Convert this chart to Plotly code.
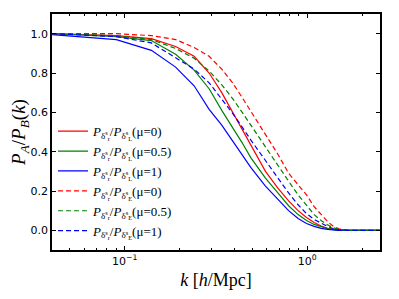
import plotly.graph_objects as go

k = [0.04, 0.09, 0.14, 0.19, 0.24, 0.29, 0.34, 0.39, 0.44, 0.49, 0.59, 0.69,
     0.79, 0.89, 0.99, 1.09, 1.19, 1.29, 1.39, 1.49, 1.69, 1.99, 2.49]

L_mu0 = [1.0, 0.99, 0.975, 0.935, 0.885, 0.80, 0.70, 0.60, 0.51, 0.43, 0.30, 0.215,
         0.15, 0.10, 0.065, 0.04, 0.022, 0.01, 0.004, 0.001, 0.0, 0.0, 0.0]
L_mu05 = [1.0, 0.985, 0.965, 0.895, 0.815, 0.72, 0.61, 0.525, 0.445, 0.37, 0.265, 0.19,
          0.125, 0.08, 0.05, 0.03, 0.018, 0.009, 0.004, 0.001, 0.0, 0.0, 0.0]
L_mu1 = [0.995, 0.97, 0.915, 0.83, 0.735, 0.615, 0.535, 0.455, 0.385, 0.32, 0.225, 0.155,
         0.10, 0.06, 0.035, 0.02, 0.01, 0.005, 0.002, 0.0, 0.0, 0.0, 0.0]
E_mu0 = [1.0, 1.0, 0.99, 0.97, 0.93, 0.885, 0.82, 0.75, 0.675, 0.607, 0.487, 0.387,
         0.29, 0.235, 0.18, 0.12, 0.08, 0.045, 0.02, 0.008, 0.0, 0.0, 0.0]
E_mu05 = [1.0, 0.99, 0.97, 0.925, 0.875, 0.81, 0.74, 0.67, 0.60, 0.535, 0.42, 0.33,
          0.25, 0.18, 0.125, 0.08, 0.05, 0.028, 0.013, 0.005, 0.0, 0.0, 0.0]
E_mu1 = [1.0, 0.985, 0.953, 0.88, 0.82, 0.75, 0.67, 0.595, 0.525, 0.46, 0.355, 0.265,
         0.19, 0.13, 0.085, 0.055, 0.035, 0.02, 0.008, 0.003, 0.0, 0.0, 0.0]

lbl_r = "<i>P</i><sub>δ<sup>s</sup><sub>r</sub></sub>"
names = [
    lbl_r + "/<i>P</i><sub>δ<sup>s</sup><sub>L</sub></sub>(μ=0)",
    lbl_r + "/<i>P</i><sub>δ<sup>s</sup><sub>L</sub></sub>(μ=0.5)",
    lbl_r + "/<i>P</i><sub>δ<sup>s</sup><sub>L</sub></sub>(μ=1)",
    lbl_r + "/<i>P</i><sub>δ<sup>s</sup><sub>E</sub></sub>(μ=0)",
    lbl_r + "/<i>P</i><sub>δ<sup>s</sup><sub>E</sub></sub>(μ=0.5)",
    lbl_r + "/<i>P</i><sub>δ<sup>s</sup><sub>E</sub></sub>(μ=1)",
]
series = [L_mu0, L_mu05, L_mu1, E_mu0, E_mu05, E_mu1]
colors = ["#ff0000", "#008000", "#0000ff", "#ff0000", "#008000", "#0000ff"]
dashes = ["solid", "solid", "solid", "5px,3px", "5px,3px", "5px,3px"]

fig = go.Figure()
for y, n, c, d in zip(series, names, colors, dashes):
    fig.add_trace(go.Scatter(x=k, y=y, mode="lines", name=n,
                             line=dict(color=c, width=1.2, dash=d)))

axis_common = dict(showline=True, linecolor="black", linewidth=1.5, mirror="allticks",
                   ticks="inside", ticklen=4, tickcolor="black", showgrid=False,
                   zeroline=False, automargin=False,
                   tickfont=dict(family="DejaVu Sans", size=11, color="black"))

# page has an 8px body margin, so the figure is made 8px smaller and offsets reduced
fig.update_layout(
    width=391, height=291,
    margin=dict(l=44, r=19, t=6, b=49),
    paper_bgcolor="white", plot_bgcolor="white",
    showlegend=True,
    legend=dict(x=0.003, y=0.567, xanchor="left", yanchor="top",
                bgcolor="rgba(0,0,0,0)", borderwidth=0,
                font=dict(family="Liberation Serif", size=13, color="black"),
                tracegroupgap=0),
    xaxis=dict(type="log", range=[-1.398, 0.398],
               tickvals=[0.1, 1.0], ticktext=["10<sup>−1</sup>", "10<sup>0</sup>"],
               minor=dict(ticks="inside", ticklen=2, tickcolor="black",
                          tickvals=[0.05, 0.06, 0.07, 0.08, 0.09, 0.2, 0.3, 0.4, 0.5,
                                    0.6, 0.7, 0.8, 0.9, 2.0]),
               title=dict(text="<i>k</i> [<i>h</i>/Mpc]", standoff=6,
                          font=dict(family="Liberation Serif", size=18, color="black")),
               **axis_common),
    yaxis=dict(range=[-0.1, 1.1], tickvals=[0, 0.2, 0.4, 0.6, 0.8, 1.0],
               ticktext=["0.0", "0.2", "0.4", "0.6", "0.8", "1.0"],
               title=dict(text="<i>P<sub>A</sub></i>/<i>P<sub>B</sub></i>(<i>k</i>)",
                          font=dict(family="Liberation Serif", size=19, color="black")),
               **axis_common),
)

fig.write_html("out.html")
